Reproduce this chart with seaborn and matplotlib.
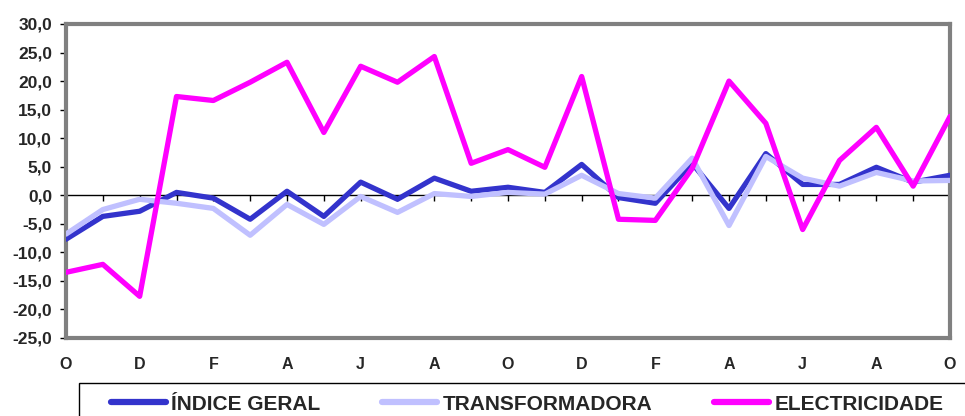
import pandas as pd
import numpy as np
import matplotlib.pyplot as plt
import seaborn as sns
from matplotlib.patches import Rectangle

# months from October to October (25 points), label shown every other month
months = ['O', 'N', 'D', 'J', 'F', 'M', 'A', 'M', 'J', 'J', 'A', 'S',
          'O', 'N', 'D', 'J', 'F', 'M', 'A', 'M', 'J', 'J', 'A', 'S', 'O']

indice_geral = [-7.7, -3.7, -2.8, 0.5, -0.5, -4.2, 0.7, -3.7, 2.3, -0.7, 3.0, 0.7, 1.4,
                0.5, 5.4, -0.4, -1.4, 5.6, -2.3, 7.3, 1.9, 1.9, 4.9, 2.3, 3.5]
transformadora = [-6.8, -2.5, -0.7, -1.4, -2.3, -7.0, -1.6, -5.1, -0.2, -3.0, 0.3, -0.2, 0.5,
                  0.2, 3.5, 0.3, -0.5, 6.5, -5.3, 6.8, 3.0, 1.6, 4.0, 2.5, 2.6]
electricidade = [-13.5, -12.1, -17.7, 17.3, 16.6, 19.8, 23.3, 11.0, 22.6, 19.8, 24.3, 5.6, 8.0,
                 4.9, 20.8, -4.2, -4.4, 4.7, 20.0, 12.6, -6.0, 6.1, 11.9, 1.6, 13.8]

series_names = ['ÍNDICE GERAL', 'TRANSFORMADORA', 'ELECTRICIDADE']
colors = ['#3333CC', '#C0C0FF', '#FF00FF']

yticks = np.arange(-25, 31, 5)

n = len(months)
df = pd.DataFrame({
    'pos': list(range(n)) * 3,
    'valor': indice_geral + transformadora + electricidade,
    'serie': [series_names[0]] * n + [series_names[1]] * n + [series_names[2]] * n,
})

sns.set_style('white')
plt.rcParams['font.family'] = ['Liberation Sans', 'DejaVu Sans']
plt.rcParams['font.weight'] = 'bold'

fig = plt.figure(figsize=(9.65, 4.16), dpi=100)
ax = fig.add_axes([66 / 965, 1 - 338 / 416, (950 - 66) / 965, (338 - 24) / 416])

sns.lineplot(data=df, x='pos', y='valor', hue='serie', hue_order=series_names,
             palette=colors, linewidth=3.8, ax=ax, legend=False, zorder=3)

ax.set_xlim(0, n - 1)
ax.set_ylim(-25, 30)
ax.set_xlabel('')
ax.set_ylabel('')

# y axis
ax.set_yticks(yticks)
ax.set_yticklabels([f'{v:.1f}'.replace('.', ',') for v in yticks], fontsize=12.5, fontweight='bold')
ax.tick_params(axis='y', direction='out', length=4, width=1, color='black', left=True, pad=6)

# category axis crossing at zero
ax.spines['bottom'].set_position(('data', 0))
ax.spines['bottom'].set_color('black')
ax.spines['bottom'].set_linewidth(1)
ax.spines['bottom'].set_zorder(2)
ax.set_xticks(range(n))
ax.set_xticklabels([])
ax.tick_params(axis='x', direction='out', length=4, width=1, color='black', bottom=True)

for side in ['top', 'right', 'left']:
    ax.spines[side].set_color('#808080')
    ax.spines[side].set_linewidth(3)

# labels along the bottom of the plot area
sec = ax.secondary_xaxis(0.0)
sec.set_xticks(range(0, n, 2))
sec.set_xticklabels(months[::2], fontsize=11.5, fontweight='bold')
sec.tick_params(axis='x', length=0, pad=14)
sec.spines['bottom'].set_color('#808080')
sec.spines['bottom'].set_linewidth(3)

# legend box (runs off the right and bottom edges)
fig.patches.append(Rectangle((79 / 965, -0.1), 1.0, 1 - 383 / 416 + 0.1,
                             transform=fig.transFigure, fill=False,
                             edgecolor='black', linewidth=1))

handles = [plt.Line2D([], [], color=c, linewidth=4.5) for c in colors]
leg = fig.legend(handles, series_names, loc='center left',
                 bbox_to_anchor=(111 / 965, 1 - 404 / 416), ncol=3,
                 prop={'weight': 'bold', 'size': 15},
                 handlelength=2.65, handletextpad=0.25, columnspacing=2.95,
                 borderpad=0, borderaxespad=0, frameon=False)

fig.savefig('out.png', dpi=100)
